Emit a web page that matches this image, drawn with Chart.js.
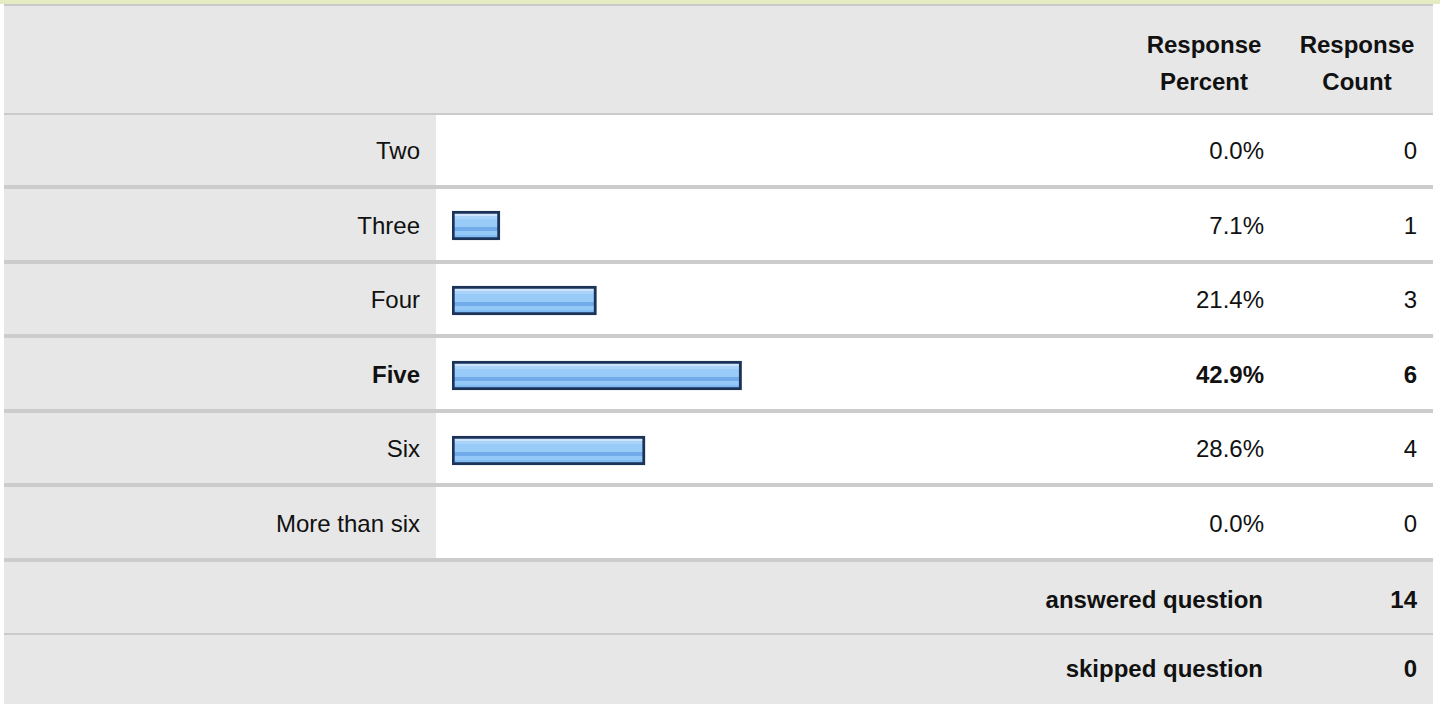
<!DOCTYPE html>
<html>
<head>
<meta charset="utf-8">
<script src="https://cdn.jsdelivr.net/npm/chart.js@4.4.1/dist/chart.umd.min.js"></script>
<style>
  body { margin: 0; background: #fff; font-family: "Liberation Sans", Arial, sans-serif; color: #111; }
  #wrap { position: relative; width: 1440px; height: 704px; overflow: hidden; }
  #bg { position: absolute; left: 0; top: 0; width: 1440px; height: 704px; }
  .abs { position: absolute; }
  .txt { position: absolute; font-size: 24px; white-space: nowrap; }
  .b { font-weight: bold; }
  #barCanvas { position: absolute; left: 436px; top: 113px; }
</style>
</head>
<body>
<div id="wrap">
  <div id="bg"></div>
  <canvas id="barCanvas" width="691" height="450"></canvas>
</div>
<script>
const categories = ['Two', 'Three', 'Four', 'Five', 'Six', 'More than six'];
const percents = [0.0, 7.1, 21.4, 42.9, 28.6, 0.0];
const counts = [0, 1, 3, 6, 4, 0];
const headerPercent = ['Response', 'Percent'];
const headerCount = ['Response', 'Count'];
const summaryLabels = ['answered question', 'skipped question'];
const summaryValues = [14, 0];

document.addEventListener('DOMContentLoaded', function() {
    const wrap = document.getElementById('wrap');
    const bg = document.getElementById('bg');

    function box(x, y, w, h, color) {
        const d = document.createElement('div');
        d.className = 'abs';
        d.style.cssText = `left:${x}px;top:${y}px;width:${w}px;height:${h}px;background:${color}`;
        bg.appendChild(d);
        return d;
    }
    function text(str, x, cy, align, bold, w) {
        const d = document.createElement('div');
        d.className = 'txt' + (bold ? ' b' : '');
        d.textContent = str;
        d.style.top = (cy - 15) + 'px';
        d.style.lineHeight = '30px';
        if (align === 'right') {
            d.style.right = (1440 - x) + 'px';
            d.style.textAlign = 'right';
        } else {
            d.style.left = (x - w / 2) + 'px';
            d.style.width = w + 'px';
            d.style.textAlign = 'center';
        }
        wrap.appendChild(d);
    }

    const L = 4, R = 1433;
    // frame
    box(0, 0, 1440, 4, '#e5ebc2');
    box(L, 4, R - L, 2, '#c9c9c9');
    box(L, 6, R - L, 698, '#e7e7e7');
    box(L, 113, R - L, 2, '#cbcbcb');

    // data rows
    const rowTops = categories.map((c, i) => i === 0 ? 115 : Math.round(189 + 74.6 * (i - 1)));
    const lineTops = categories.map((c, i) => Math.round(185 + 74.6 * i));
    const maxIdx = counts.indexOf(Math.max(...counts));
    categories.forEach((cat, i) => {
        const top = rowTops[i];
        box(436, top, 1440 - 436, lineTops[i] - top, '#ffffff');
        box(L, lineTops[i], R - L, 4, '#cccccc');
        const cy = (top + lineTops[i]) / 2 + 1;
        const bold = i === maxIdx;
        text(cat, 420, cy, 'right', bold);
        text(percents[i].toFixed(1) + '%', 1264, cy, 'right', bold);
        text(String(counts[i]), 1417, cy, 'right', bold);
    });

    // header
    text(headerPercent[0], 1204, 45, 'center', true, 160);
    text(headerPercent[1], 1204, 82, 'center', true, 160);
    text(headerCount[0], 1357, 45, 'center', true, 160);
    text(headerCount[1], 1357, 82, 'center', true, 160);

    // summary rows
    box(L, 633, R - L, 2, '#cbcbcb');
    text(summaryLabels[0], 1263, 600, 'right', true);
    text(String(summaryValues[0]), 1417, 600, 'right', true);
    text(summaryLabels[1], 1263, 669, 'right', true);
    text(String(summaryValues[1]), 1417, 669, 'right', true);

    // bars
    const barH = 29;
    function barFill(context) {
        const chart = context.chart;
        const yScale = chart.scales.y;
        if (!chart.chartArea || !yScale) return '#96cbf8';
        const cy = yScale.getPixelForValue(context.dataIndex);
        const top = cy - barH / 2;
        const g = chart.ctx.createLinearGradient(0, top, 0, top + barH);
        const stops = [
            [0, '#cde4fc'], [5, '#cde4fc'], [5, '#aad3fa'], [8, '#aad3fa'],
            [8, '#98cbf8'], [16, '#98cbf8'], [16, '#72abea'], [20, '#72abea'],
            [20, '#94c8f7'], [24, '#94c8f7'], [24, '#80bbf3'], [29, '#80bbf3']
        ];
        stops.forEach(s => g.addColorStop(s[0] / barH, s[1]));
        return g;
    }

    new Chart(document.getElementById('barCanvas').getContext('2d'), {
        type: 'bar',
        data: {
            labels: categories,
            datasets: [{
                data: percents,
                backgroundColor: barFill,
                borderColor: '#1b3359',
                borderWidth: 3,
                borderSkipped: false,
                barThickness: barH
            }]
        },
        options: {
            indexAxis: 'y',
            responsive: false,
            animation: false,
            layout: { padding: { left: 16, right: 0, top: 0, bottom: 0 } },
            scales: {
                x: { display: false, min: 0, max: 100 },
                y: { display: false }
            },
            plugins: { legend: { display: false }, tooltip: { enabled: false } }
        }
    });
});
</script>
</body>
</html>
